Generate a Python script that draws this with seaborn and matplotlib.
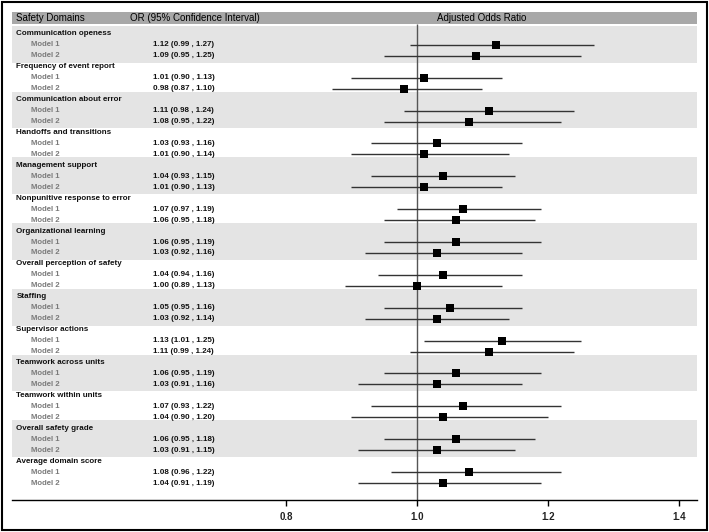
import numpy as np
import pandas as pd
import matplotlib
matplotlib.use("Agg")
import matplotlib.pyplot as plt
import matplotlib.patches as mpatches
import seaborn as sns

domains = ["Communication openess", "Frequency of event report", "Communication about error",
           "Handoffs and transitions", "Management support", "Nonpunitive response to error",
           "Organizational learning", "Overall perception of safety", "Staffing",
           "Supervisor actions", "Teamwork across units", "Teamwork within units",
           "Overall safety grade", "Average domain score"]
or_m1 = [1.12, 1.01, 1.11, 1.03, 1.04, 1.07, 1.06, 1.04, 1.05, 1.13, 1.06, 1.07, 1.06, 1.08]
lo_m1 = [0.99, 0.90, 0.98, 0.93, 0.93, 0.97, 0.95, 0.94, 0.95, 1.01, 0.95, 0.93, 0.95, 0.96]
hi_m1 = [1.27, 1.13, 1.24, 1.16, 1.15, 1.19, 1.19, 1.16, 1.16, 1.25, 1.19, 1.22, 1.18, 1.22]
or_m2 = [1.09, 0.98, 1.08, 1.01, 1.01, 1.06, 1.03, 1.00, 1.03, 1.11, 1.03, 1.04, 1.03, 1.04]
lo_m2 = [0.95, 0.87, 0.95, 0.90, 0.90, 0.95, 0.92, 0.89, 0.92, 0.99, 0.91, 0.90, 0.91, 0.91]
hi_m2 = [1.25, 1.10, 1.22, 1.14, 1.13, 1.18, 1.16, 1.13, 1.14, 1.24, 1.16, 1.20, 1.15, 1.19]
xticks = [0.8, 1.0, 1.2, 1.4]

rows = []
for i, d in enumerate(domains):
    rows.append(dict(domain=d, model="Model 1", OR=or_m1[i], lo=lo_m1[i], hi=hi_m1[i], row=3 * i + 1))
    rows.append(dict(domain=d, model="Model 2", OR=or_m2[i], lo=lo_m2[i], hi=hi_m2[i], row=3 * i + 2))
df = pd.DataFrame(rows)

sns.set_theme(style="white")
plt.rcParams['font.family'] = ['Liberation Sans', 'DejaVu Sans']

fig = plt.figure(figsize=(7.09, 5.32), dpi=100)
ax = fig.add_axes([12 / 709, 1 - 500 / 532, 685 / 709, 488 / 532])
ax.set_xlim(0.3817, 1.4275)
ax.set_ylim(42.55, -2.0)

# shaded bands for alternate domains
for i in range(0, len(domains), 2):
    ax.axhspan(3 * i - 0.72, 3 * i + 2.62, color="#e4e4e4", lw=0, zorder=0)
# header bar
ax.axhspan(-2.0, -0.9, color="#a8a8a8", lw=0, zorder=0)

ax.vlines(1.0, -0.9, 42.55, color="#555555", lw=1.0, zorder=1)
ax.hlines(df["row"], df["lo"], df["hi"], color="#333333", lw=1.0, zorder=2)
sns.scatterplot(data=df, x="OR", y="row", marker="s", s=27, color="black",
                edgecolor="black", linewidth=0, zorder=3, ax=ax, legend=False)

tr = ax.get_yaxis_transform()
for i, d in enumerate(domains):
    ax.text(0.0065, 3 * i, d, transform=tr, fontsize=5.8, fontweight="bold",
            va="center", ha="left", color="#111111")
for _, r in df.iterrows():
    ax.text(0.028, r["row"], r["model"], transform=tr, fontsize=5.6, fontweight="bold",
            va="center", ha="left", color="#7a7a7a")
    ax.text(0.206, r["row"], f"{r['OR']:.2f} ({r['lo']:.2f} , {r['hi']:.2f})", transform=tr,
            fontsize=5.8, fontweight="bold", va="center", ha="left", color="#111111")

ax.text(0.006, -1.45, "Safety Domains", transform=tr, fontsize=7.0, va="center", ha="left", color="black")
ax.text(0.172, -1.45, "OR (95% Confidence Interval)", transform=tr, fontsize=7.0, va="center", ha="left", color="black")
ax.text(0.685, -1.45, "Adjusted Odds Ratio", transform=tr, fontsize=7.0, va="center", ha="center", color="black")

for s in ["top", "left", "right"]:
    ax.spines[s].set_visible(False)
ax.spines["bottom"].set_color("black")
ax.spines["bottom"].set_linewidth(1.0)
ax.set_yticks([])
ax.set_xticks(xticks)
ax.set_xticklabels([f"{t:.1f}" for t in xticks], fontsize=7, fontweight="bold", color="#222222")
ax.tick_params(axis="x", bottom=True, length=4, width=1, color="black", pad=5)
ax.set_xlabel("")
ax.set_ylabel("")

fig.patches.append(mpatches.Rectangle((2 / 709, 2 / 532), 705 / 709, 528 / 532, transform=fig.transFigure,
                                      fill=False, edgecolor="black", lw=1.5))

fig.savefig("out.png", dpi=100)
